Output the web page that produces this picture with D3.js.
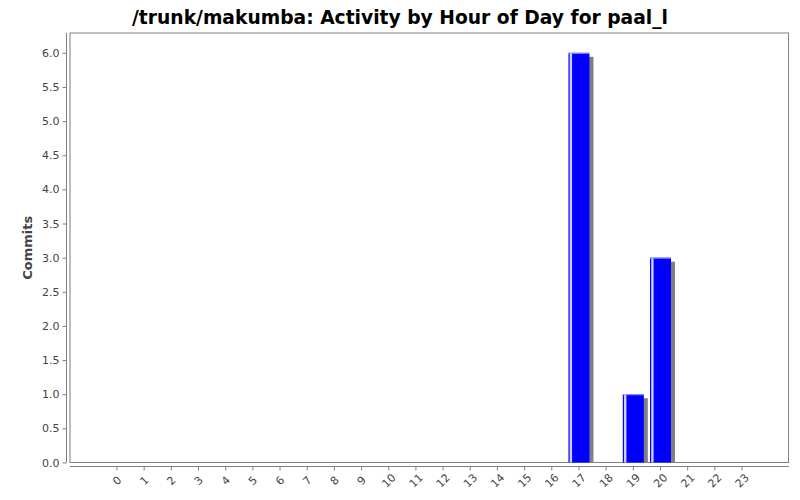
<!DOCTYPE html>
<html>
<head>
<meta charset="utf-8">
<script src="https://cdn.jsdelivr.net/npm/d3@7"></script>
<style>
body { margin: 0; background: #fff; }
text { font-family: "DejaVu Sans", sans-serif; }
</style>
</head>
<body>
<script>
// chart data
var hours = d3.range(0, 24).map(String);
var commits = [0,0,0,0,0,0,0,0,0,0,0,0,0,0,0,0,0,6,0,1,3,0,0,0];
var yTicks = [0,0.5,1,1.5,2,2.5,3,3.5,4,4.5,5,5.5,6];

var width = 800, height = 500;
var plot = {left: 70, right: 788.5, top: 33, bottom: 462.5};

var svg = d3.select("body").append("svg")
	.attr("width", width)
	.attr("height", height);

svg.append("rect").attr("width", width).attr("height", height).attr("fill", "#fff");

// title
svg.append("text")
	.attr("x", 400).attr("y", 24)
	.attr("text-anchor", "middle")
	.style("font-size", "18.7px").style("font-weight", "bold")
	.attr("fill", "#000")
	.text("/trunk/makumba: Activity by Hour of Day for paal_l");

// scales
var x = d3.scaleBand()
	.domain(hours)
	.range([103.4, 755.6])
	.paddingInner(0.227)
	.paddingOuter(0.1135);

var y = d3.scaleLinear()
	.domain([0, 6.29])
	.range([plot.bottom, plot.top]);

// plot border
svg.append("rect")
	.attr("x", plot.left).attr("y", plot.top)
	.attr("width", plot.right - plot.left).attr("height", plot.bottom - plot.top)
	.attr("fill", "none").attr("stroke", "#808080").attr("stroke-width", 1);

// bars: shadow, body, highlights
var data = hours.map(function(h, i) { return {hour: h, value: commits[i]}; })
	.filter(function(d) { return d.value > 0; });

var bars = svg.append("g");
bars.selectAll(".shadow").data(data).enter().append("rect")
	.attr("class", "shadow")
	.attr("x", function(d) { return x(d.hour) + 4; })
	.attr("y", function(d) { return y(d.value) + 4; })
	.attr("width", x.bandwidth())
	.attr("height", function(d) { return plot.bottom - y(d.value) - 4; })
	.attr("fill", "#808080");

bars.selectAll(".bar").data(data).enter().append("rect")
	.attr("class", "bar")
	.attr("x", function(d) { return x(d.hour); })
	.attr("y", function(d) { return y(d.value); })
	.attr("width", x.bandwidth())
	.attr("height", function(d) { return plot.bottom - y(d.value); })
	.attr("fill", "#0000ff");

bars.selectAll(".hl").data(data).enter().append("rect")
	.attr("class", "hl")
	.attr("x", function(d) { return x(d.hour) + 1.2; })
	.attr("y", function(d) { return y(d.value); })
	.attr("width", 2.4)
	.attr("height", function(d) { return plot.bottom - y(d.value); })
	.attr("fill", "#d0d0ff");

bars.selectAll(".top").data(data).enter().append("rect")
	.attr("class", "top")
	.attr("x", function(d) { return x(d.hour); })
	.attr("y", function(d) { return y(d.value); })
	.attr("width", x.bandwidth())
	.attr("height", 1)
	.attr("fill", "#9999ff");

// y axis
var yAxis = d3.axisLeft(y).tickValues(yTicks).tickFormat(d3.format(".1f")).tickSizeInner(4).tickSizeOuter(0).tickPadding(3);
var gy = svg.append("g")
	.attr("transform", "translate(66.5,0)")
	.call(yAxis);
gy.select(".domain").attr("stroke", "#808080").attr("d", "M0," + plot.top + "V" + plot.bottom);
gy.selectAll(".tick line").attr("stroke", "#808080");
gy.selectAll(".tick text").attr("fill", "#444").style("font-size", "11px");

svg.append("text")
	.attr("transform", "translate(32," + ((plot.top + plot.bottom) / 2) + ") rotate(-90)")
	.attr("text-anchor", "middle")
	.style("font-size", "13px").style("font-weight", "bold")
	.attr("fill", "#444")
	.text("Commits");

// x axis
var xAxis = d3.axisBottom(x).tickSizeInner(4).tickSizeOuter(0);
var gx = svg.append("g")
	.attr("transform", "translate(0,466.5)")
	.call(xAxis);
gx.select(".domain").attr("stroke", "#808080").attr("d", "M" + plot.left + ",0H" + (plot.right + 0.5));
gx.selectAll(".tick line").attr("stroke", "#808080");
gx.selectAll(".tick text")
	.attr("fill", "#444").style("font-size", "11px")
	.attr("text-anchor", "middle")
	.attr("y", 0).attr("dy", "0.35em")
	.attr("transform", "translate(0,14) rotate(-45)");
</script>
</body>
</html>
